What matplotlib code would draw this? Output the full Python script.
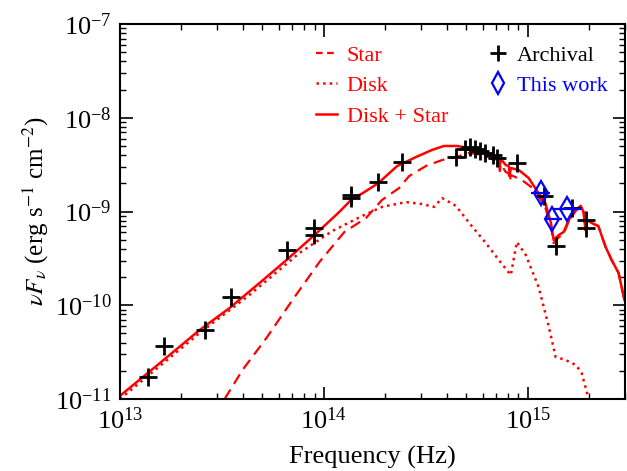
import numpy as np
import matplotlib
matplotlib.use('Agg')
import matplotlib.pyplot as plt
from matplotlib.lines import Line2D

plt.rcParams['font.family'] = ['Liberation Serif', 'DejaVu Serif']
plt.rcParams['mathtext.fontset'] = 'stix'

# archival photometry (Hz, erg/s/cm2)
nu_arch = np.array([1.37e13, 1.64e13, 2.60e13, 3.49e13, 6.56e13, 8.98e13, 8.98e13,
                    1.36e14, 1.36e14, 1.85e14, 2.42e14, 4.45e14, 4.92e14, 5.2e14,
                    5.5e14, 5.82e14, 6.16e14, 6.74e14, 7.05e14, 8.84e14, 1.2e15,
                    1.37e15, 1.64e15, 1.94e15, 1.94e15])
f_arch = np.array([1.72e-11, 3.67e-11, 5.45e-11, 1.22e-10, 3.89e-10, 6.67e-10, 5.6e-10,
                   1.5e-9, 1.4e-9, 2.06e-9, 3.39e-9, 3.81e-9, 4.64e-9, 4.88e-9,
                   4.64e-9, 4.42e-9, 4.21e-9, 4.0e-9, 3.72e-9, 3.29e-9, 1.46e-9,
                   4.29e-10, 1.09e-9, 8.1e-10, 6.67e-10])

# this work
nu_new = np.array([1.16e15, 1.31e15, 1.55e15])
f_new = np.array([1.57e-9, 8.3e-10, 1.06e-9])
nu_new_lo = np.array([1.035e15, 1.21e15, 1.34e15])
nu_new_hi = np.array([1.29e15, 1.47e15, 1.82e15])

# disk + star model
nu_tot = np.array([1.00e13, 1.57e13, 2.46e13, 3.45e13, 4.84e13, 6.56e13, 8.99e13, 1.19e14,
                   1.36e14, 1.58e14, 1.85e14, 2.29e14, 2.83e14, 3.39e14, 3.88e14, 4.50e14,
                   5.14e14, 5.76e14, 6.82e14, 7.21e14, 7.30e14, 7.38e14, 7.80e14, 8.07e14,
                   8.17e14, 8.26e14, 9.04e14, 1.01e15, 1.13e15, 1.22e15, 1.30e15, 1.34e15,
                   1.42e15, 1.50e15, 1.59e15, 1.72e15, 1.82e15, 1.88e15, 1.92e15, 1.96e15,
                   2.06e15, 2.22e15, 2.41e15, 2.58e15, 2.79e15, 2.98e15])
f_tot = np.array([1.08e-11, 2.42e-11, 5.45e-11, 9.35e-11, 1.73e-10, 3.04e-10, 5.61e-10, 9.88e-10,
                  1.33e-9, 1.61e-9, 2.01e-9, 3.06e-9, 3.81e-9, 4.53e-9, 5.00e-9, 5.00e-9,
                  4.75e-9, 4.53e-9, 3.91e-9, 3.72e-9, 3.1e-9, 3.63e-9, 3.13e-9, 3.06e-9,
                  2.5e-9, 2.91e-9, 2.77e-9, 2.28e-9, 1.57e-9, 1.23e-9, 7.54e-10, 4.96e-10,
                  5.61e-10, 6.04e-10, 8.11e-10, 1.04e-9, 1.15e-9, 9.88e-10, 6.35e-10, 8.11e-10,
                  7.54e-10, 7.0e-10, 4.18e-10, 3.04e-10, 2.21e-10, 1.14e-10])

# star model
nu_star = np.array([3.26e13, 3.99e13, 5.23e13, 7.02e13, 9.51e13, 1.26e14, 1.61e14, 1.93e14,
                    2.34e14, 2.62e14, 3.17e14, 3.80e14, 4.44e14, 5.14e14, 6.09e14, 6.82e14,
                    7.21e14, 7.30e14, 7.38e14, 7.80e14, 8.07e14, 8.17e14, 8.26e14, 9.35e14,
                    1.09e15, 1.22e15, 1.30e15, 1.34e15, 1.42e15, 1.50e15, 1.59e15, 1.72e15,
                    1.82e15, 1.88e15, 1.92e15, 1.96e15, 2.06e15, 2.22e15, 2.41e15, 2.58e15,
                    2.79e15, 2.98e15])
f_star = np.array([1.0e-11, 2.04e-11, 4.48e-11, 1.14e-10, 2.89e-10, 6.04e-10, 8.53e-10, 1.33e-9,
                   1.78e-9, 2.39e-9, 3.06e-9, 3.54e-9, 3.81e-9, 4.21e-9, 4.01e-9, 3.54e-9,
                   3.35e-9, 2.7e-9, 3.2e-9, 2.64e-9, 2.55e-9, 2.1e-9, 2.45e-9, 2.17e-9,
                   1.69e-9, 1.1e-9, 6.9e-10, 4.6e-10, 5.3e-10, 5.8e-10, 7.9e-10, 1.02e-9,
                   1.13e-9, 9.8e-10, 6.3e-10, 8.05e-10, 7.5e-10, 7.0e-10, 4.18e-10, 3.04e-10,
                   2.21e-10, 1.14e-10])

# disk model
nu_disk = np.array([1.0e13, 2.46e13, 4.32e13, 7.59e13, 1.10e14, 1.54e14, 1.93e14, 2.53e14,
                    3.03e14, 3.47e14, 3.80e14, 4.44e14, 5.26e14, 6.23e14, 7.21e14, 8.26e14,
                    8.84e14, 9.78e14, 1.13e15, 1.27e15, 1.37e15, 1.53e15, 1.72e15, 1.84e15,
                    1.99e15])
f_disk = np.array([1.0e-11, 5.06e-11, 1.29e-10, 3.61e-10, 6.19e-10, 8.95e-10, 1.12e-9, 1.26e-9,
                   1.20e-9, 1.12e-9, 1.39e-9, 1.15e-9, 7.18e-10, 4.61e-10, 3.04e-10, 2.10e-10,
                   4.73e-10, 3.44e-10, 1.57e-10, 5.86e-11, 2.81e-11, 2.61e-11, 2.31e-11, 1.89e-11,
                   1.0e-11])

fig = plt.figure(figsize=(6.27, 4.71), dpi=100)
ax = fig.add_axes([0.1914, 0.1529, 0.8054, 0.7961])

ax.plot(nu_star, f_star, '--', color='red', lw=1.6, dashes=(5, 3))
ax.plot(nu_disk, f_disk, ':', color='red', lw=1.8)
ax.plot(nu_tot, f_tot, '-', color='red', lw=1.8)

ax.plot(nu_arch, f_arch, '+', color='black', ms=13, mew=2)
ax.errorbar(nu_new, f_new, xerr=[nu_new - nu_new_lo, nu_new_hi - nu_new], fmt='d',
            color='blue', mfc='none', ms=12, mew=1.6, elinewidth=1.6, capsize=0)

ax.set_xscale('log')
ax.set_yscale('log')
ax.set_xlim(1e13, 3e15)
ax.set_ylim(1e-11, 1e-7)

ax.set_xlabel('Frequency (Hz)', fontsize=19, labelpad=9)
ax.set_ylabel(r'$\nu F_\nu$ (erg s$^{-1}$ cm$^{-2}$)', fontsize=18, labelpad=3)

ax.tick_params(which='both', direction='in', top=True, right=True, labelsize=19)
ax.tick_params(which='major', length=9, width=1.2, pad=6)
ax.tick_params(which='minor', length=4.5, width=1)
for s in ax.spines.values():
    s.set_linewidth(1.5)

h1 = [Line2D([], [], ls='--', color='red', lw=1.6, dashes=(3, 2)),
      Line2D([], [], ls=':', color='red', lw=1.8),
      Line2D([], [], ls='-', color='red', lw=1.8)]
leg1 = ax.legend(h1, ['Star', 'Disk', 'Disk + Star'], loc='upper left',
                 bbox_to_anchor=(0.348, 0.997), frameon=False, fontsize=16,
                 labelcolor='red', handlelength=0.95, handletextpad=0.45,
                 labelspacing=0.45)
ax.add_artist(leg1)
h2 = [Line2D([], [], ls='none', marker='+', color='black', ms=12, mew=2),
      Line2D([], [], ls='none', marker='d', color='blue', mfc='none', ms=11, mew=1.6)]
ax.legend(h2, ['Archival', 'This work'], loc='upper left',
          bbox_to_anchor=(0.694, 0.997), frameon=False, fontsize=16,
          labelcolor=['black', 'blue'], handlelength=0.7, handletextpad=0.5,
          labelspacing=0.45)

fig.savefig('out.png', dpi=100)
